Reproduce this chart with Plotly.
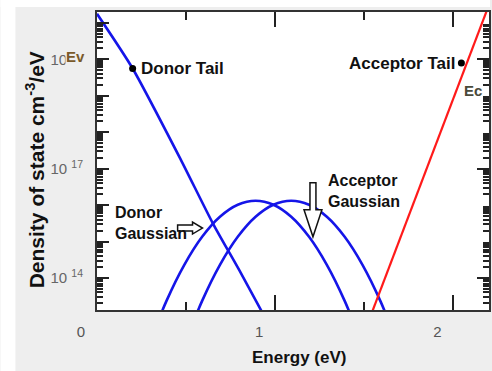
import plotly.graph_objects as go

# ---- data: energy (eV) and log10 of the density of states (cm^-3/eV) ----
donor_tail_E = [0.00, 0.20, 0.47, 0.65, 0.80, 0.95]
donor_tail_log = [21.25, 19.75, 17.25, 15.50, 14.20, 12.85]

donor_gauss_E = [0.29, 0.39, 0.49, 0.59, 0.69, 0.79, 0.89, 0.99, 1.09, 1.19, 1.29, 1.39, 1.49]
donor_gauss_log = [12.15, 13.37, 14.36, 15.13, 15.68, 16.01, 16.12,
                   16.01, 15.68, 15.13, 14.36, 13.37, 12.15]

acceptor_gauss_E = [0.49, 0.59, 0.69, 0.79, 0.89, 0.99, 1.09, 1.19, 1.29, 1.39, 1.49, 1.59, 1.69]
acceptor_gauss_log = [12.15, 13.37, 14.36, 15.13, 15.68, 16.01, 16.12,
                      16.01, 15.68, 15.13, 14.36, 13.37, 12.15]

acceptor_tail_E = [1.50, 1.70, 1.90, 2.10, 2.25]
acceptor_tail_log = [12.50, 15.07, 17.64, 20.21, 22.14]

# labelled points on the two tails
donor_dot = (0.20, 19.75)
acceptor_dot = (2.045, 19.90)

# arrow tips (energy, log10 DOS)
donor_arrow_tip = (0.592, 15.37)
acceptor_arrow_tip = (1.212, 15.13)

x_range = [0.0, 2.2]
y_log_range = [13.12, 21.30]
labelled_decades = [14, 17, 20]
plain_decades = [13, 15, 16, 18, 19, 21]

W, H = 492, 371
M = dict(l=97, r=1, t=12, b=61)
plot_w = W - M["l"] - M["r"]
plot_h = H - M["t"] - M["b"]


def pw(v):
    return [10.0 ** e for e in v]


def to_paper(E, lg):
    return ((E - x_range[0]) / (x_range[1] - x_range[0]),
            (lg - y_log_range[0]) / (y_log_range[1] - y_log_range[0]))


def arrow_path(tip, offsets):
    px, py = to_paper(*tip)
    pts = [(px + dx / plot_w, py + dy / plot_h) for dx, dy in offsets]
    return "M " + " L ".join(f"{x:.5f},{y:.5f}" for x, y in pts) + " Z"


BLUE = "#1515e8"
RED = "#ff1a1a"

fig = go.Figure()
for xs, ys, smooth in [(donor_tail_E, donor_tail_log, 0.6),
                       (donor_gauss_E, donor_gauss_log, 1.0),
                       (acceptor_gauss_E, acceptor_gauss_log, 1.0)]:
    fig.add_trace(go.Scatter(x=xs, y=pw(ys), mode="lines",
                             line=dict(color=BLUE, width=2.6, shape="spline", smoothing=smooth),
                             showlegend=False, hoverinfo="skip"))
fig.add_trace(go.Scatter(x=acceptor_tail_E, y=pw(acceptor_tail_log), mode="lines",
                         line=dict(color=RED, width=2.2),
                         showlegend=False, hoverinfo="skip"))
fig.add_trace(go.Scatter(x=[donor_dot[0], acceptor_dot[0]],
                         y=pw([donor_dot[1], acceptor_dot[1]]),
                         mode="markers", marker=dict(color="black", size=7),
                         showlegend=False, hoverinfo="skip", cliponaxis=False))
# empty trace that carries the overlay axis with the unlabelled decade ticks
fig.add_trace(go.Scatter(x=[None], y=[None], yaxis="y2", showlegend=False,
                         hoverinfo="skip"))

y_minor = [m * 10.0 ** d for d in range(12, 22) for m in range(2, 10)]

axis_line = dict(showline=True, linecolor="#333333", linewidth=2, mirror="ticks",
                 showgrid=False, zeroline=False, tickcolor="#222222")

fig.update_xaxes(range=x_range, tickvals=[0, 1, 2], ticktext=["0", "1", "2"],
                 ticks="inside", ticklen=15, tickwidth=2,
                 ticklabelshift=-16, ticklabelstandoff=7,
                 tickfont=dict(family="Liberation Sans", size=15, color="#555555"),
                 minor=dict(tickvals=[0.5, 1.5], ticks="inside", ticklen=8,
                            tickwidth=2, tickcolor="#222222"),
                 **axis_line)
fig.update_layout(
    yaxis=dict(type="log", range=y_log_range,
               tickvals=[10.0 ** d for d in labelled_decades],
               ticktext=[f"10 <sup>{d}</sup>" for d in labelled_decades],
               ticks="inside", ticklen=12, tickwidth=2, ticklabelstandoff=9,
               tickfont=dict(family="Liberation Sans", size=15, color="#666666"),
               minor=dict(tickvals=y_minor, ticks="inside", ticklen=6,
                          tickwidth=1.5, tickcolor="#222222"),
               **axis_line),
    yaxis2=dict(type="log", range=y_log_range, overlaying="y", side="left",
                tickvals=[10.0 ** d for d in plain_decades], showticklabels=False,
                ticks="inside", ticklen=12, tickwidth=2, tickcolor="#222222",
                showline=False, showgrid=False, zeroline=False),
)

bold = dict(family="Liberation Sans", color="#111111", weight="bold")
ann = [
    dict(text="Donor Tail", x=donor_dot[0], y=donor_dot[1], xref="x", yref="y",
         xanchor="left", yanchor="middle", xshift=6, font=dict(size=17, **bold)),
    dict(text="Acceptor Tail", x=acceptor_dot[0], y=acceptor_dot[1], xref="x", yref="y",
         xanchor="right", yanchor="middle", xshift=-4, font=dict(size=17, **bold)),
    dict(text="Donor<br>Gaussian", x=0.09, y=15.50, xref="x", yref="y",
         xanchor="left", yanchor="middle", align="left",
         font=dict(size=16, **bold)),
    dict(text="Acceptor<br>Gaussian", x=1.285, y=16.40, xref="x", yref="y",
         xanchor="left", yanchor="middle", align="left",
         font=dict(size=16, **bold)),
    dict(text="Ev", x=-11 / plot_w, y=(H - M["b"] - 57) / plot_h,
         xref="paper", yref="paper", xanchor="right", yanchor="middle",
         bgcolor="#eeeeee", borderpad=0,
         font=dict(size=15, family="Liberation Sans", color="#7a5a2a", weight="bold")),
    dict(text="Ec", x=2.05, y=19.15, xref="x", yref="y", xanchor="left",
         yanchor="middle", font=dict(size=15, family="Liberation Sans",
                                     color="#4a4a3a", weight="bold")),
    dict(text="Energy (eV)", x=(300 - M["l"]) / plot_w, y=-47 / plot_h,
         xref="paper", yref="paper", xanchor="center", yanchor="middle",
         font=dict(size=17, **bold)),
    dict(text="Density of state cm<sup>-3</sup>/eV", x=-62 / plot_w,
         y=(H - M["b"] - 170) / plot_h, xref="paper", yref="paper",
         textangle=-90, xanchor="center", yanchor="middle",
         font=dict(size=21, **bold)),
]
for a in ann:
    a["showarrow"] = False
fig.update_layout(annotations=ann)

shapes = [
    # white strips at the left and top edges of the page
    dict(type="rect", xref="paper", yref="paper", layer="below",
         x0=-M["l"] / plot_w, x1=-(M["l"] - 15) / plot_w, y0=-M["b"] / plot_h,
         y1=1 + M["t"] / plot_h, fillcolor="white", line=dict(width=0)),
    dict(type="rect", xref="paper", yref="paper", layer="below",
         x0=-M["l"] / plot_w, x1=1 + M["r"] / plot_w, y0=1 + 5 / plot_h,
         y1=1 + M["t"] / plot_h, fillcolor="white", line=dict(width=0)),
    # hollow block arrows
    dict(type="path", xref="paper", yref="paper",
         path=arrow_path(donor_arrow_tip, [(-25, 3), (-10, 3), (-10, 6), (0, 0),
                                           (-10, -6), (-10, -3), (-25, -3)]),
         fillcolor="white", line=dict(color="#111111", width=1.5)),
    dict(type="path", xref="paper", yref="paper",
         path=arrow_path(acceptor_arrow_tip, [(-3, 54), (3, 54), (3, 27), (9, 27),
                                              (0, 0), (-9, 27), (-3, 27)]),
         fillcolor="white", line=dict(color="#111111", width=1.5)),
]
fig.update_layout(shapes=shapes)

fig.update_layout(width=W, height=H, margin=M, paper_bgcolor="#eeeeee",
                  plot_bgcolor="white", showlegend=False)

fig.write_html("out.html")
